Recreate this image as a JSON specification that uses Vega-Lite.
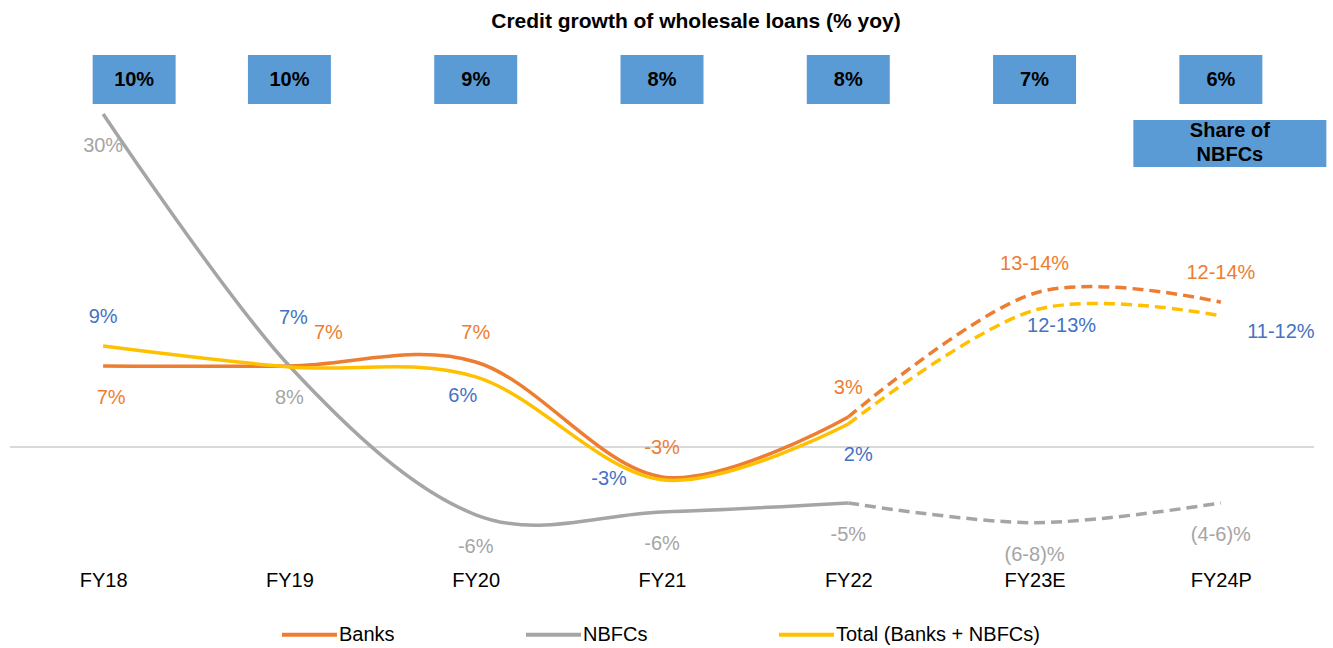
{
  "$schema": "https://vega.github.io/schema/vega-lite/v6.json",
  "width": 1304,
  "height": 520,
  "autosize": {"type": "none"},
  "padding": {"left": 10, "top": 40, "right": 19, "bottom": 88},
  "background": "white",
  "title": {"text": "Credit growth of wholesale loans (% yoy)", "fontSize": 21, "fontWeight": "bold", "font": "Liberation Sans", "color": "#000000", "anchor": "middle", "dx": 34, "offset": 8},
  "config": {"view": {"stroke": null}, "font": "Liberation Sans"},
  "datasets": {
    "growth": [
      {"year": "FY18", "series": "Banks", "value": 7.16, "label": "7%"},
      {"year": "FY19", "series": "Banks", "value": 7.16, "label": "7%"},
      {"year": "FY20", "series": "Banks", "value": 7.52, "label": "7%"},
      {"year": "FY21", "series": "Banks", "value": -2.65, "label": "-3%"},
      {"year": "FY22", "series": "Banks", "value": 2.65, "label": "3%"},
      {"year": "FY23E", "series": "Banks", "value": 13.6, "label": "13-14%"},
      {"year": "FY24P", "series": "Banks", "value": 12.8, "label": "12-14%"},
      {"year": "FY18", "series": "NBFCs", "value": 29.45, "label": "30%"},
      {"year": "FY19", "series": "NBFCs", "value": 7.16, "label": "8%"},
      {"year": "FY20", "series": "NBFCs", "value": -6.0, "label": "-6%"},
      {"year": "FY21", "series": "NBFCs", "value": -5.75, "label": "-6%"},
      {"year": "FY22", "series": "NBFCs", "value": -4.95, "label": "-5%"},
      {"year": "FY23E", "series": "NBFCs", "value": -6.7, "label": "(6-8)%"},
      {"year": "FY24P", "series": "NBFCs", "value": -4.95, "label": "(4-6)%"},
      {"year": "FY18", "series": "Total (Banks + NBFCs)", "value": 8.93, "label": "9%"},
      {"year": "FY19", "series": "Total (Banks + NBFCs)", "value": 7.08, "label": "7%"},
      {"year": "FY20", "series": "Total (Banks + NBFCs)", "value": 6.2, "label": "6%"},
      {"year": "FY21", "series": "Total (Banks + NBFCs)", "value": -2.9, "label": "-3%"},
      {"year": "FY22", "series": "Total (Banks + NBFCs)", "value": 2.03, "label": "2%"},
      {"year": "FY23E", "series": "Total (Banks + NBFCs)", "value": 12.1, "label": "12-13%"},
      {"year": "FY24P", "series": "Total (Banks + NBFCs)", "value": 11.6, "label": "11-12%"}
    ],
    "share": [
      {"year": "FY18", "share": 0.10},
      {"year": "FY19", "share": 0.10},
      {"year": "FY20", "share": 0.09},
      {"year": "FY21", "share": 0.08},
      {"year": "FY22", "share": 0.08},
      {"year": "FY23E", "share": 0.07},
      {"year": "FY24P", "share": 0.06}
    ],
    "note": [
      {"year": "FY24P", "text": "Share of\nNBFCs"}
    ]
  },
  "layer": [
    {
      "data": {"name": "growth"},
      "mark": {"type": "rule", "color": "#D9D9D9", "strokeWidth": 1},
      "encoding": {
        "y": {"datum": 0, "type": "quantitative", "scale": {"domain": [-10, 36], "nice": false, "zero": false}, "axis": null}
      }
    },
    {
      "data": {"name": "growth"},
      "transform": [{"filter": {"field": "year", "oneOf": ["FY18", "FY19", "FY20", "FY21", "FY22"]}}],
      "mark": {"type": "line", "interpolate": "cardinal", "strokeWidth": 3.5},
      "encoding": {
        "x": {"field": "year", "type": "ordinal", "scale": {"type": "point", "padding": 0.5, "domain": ["FY18", "FY19", "FY20", "FY21", "FY22", "FY23E", "FY24P"]}, "axis": {"title": null, "domain": false, "ticks": false, "labelAngle": 0, "labelFontSize": 20, "labelFont": "Liberation Sans", "labelColor": "#000000", "labelPadding": 10}},
        "y": {"field": "value", "type": "quantitative", "scale": {"domain": [-10, 36], "nice": false, "zero": false}, "axis": null},
        "color": {"field": "series", "type": "nominal", "scale": {"domain": ["Banks", "NBFCs", "Total (Banks + NBFCs)"], "range": ["#ED7D31", "#A5A5A5", "#FFC000"]},
          "legend": {"orient": "none", "legendX": 270, "legendY": 565, "direction": "horizontal", "title": null, "symbolType": "stroke", "symbolSize": 3025, "symbolStrokeWidth": 4, "labelFontSize": 20, "labelFont": "Liberation Sans", "labelColor": "#000000", "labelLimit": 0, "columnPadding": 123, "labelOffset": 0}}
      }
    },
    {
      "data": {"name": "growth"},
      "transform": [{"filter": {"field": "year", "oneOf": ["FY22", "FY23E", "FY24P"]}}],
      "mark": {"type": "line", "interpolate": "cardinal", "strokeWidth": 3.5, "strokeDash": [11, 6]},
      "encoding": {
        "x": {"field": "year", "type": "ordinal", "scale": {"type": "point", "padding": 0.5, "domain": ["FY18", "FY19", "FY20", "FY21", "FY22", "FY23E", "FY24P"]}},
        "y": {"field": "value", "type": "quantitative", "scale": {"domain": [-10, 36], "nice": false, "zero": false}, "axis": null},
        "color": {"field": "series", "type": "nominal", "scale": {"domain": ["Banks", "NBFCs", "Total (Banks + NBFCs)"], "range": ["#ED7D31", "#A5A5A5", "#FFC000"]}, "legend": null}
      }
    },
    {
      "data": {"name": "growth"},
      "transform": [{"filter": "datum.series === 'NBFCs'"}],
      "mark": {"type": "text", "fontSize": 20, "color": "#A5A5A5", "dy": 32},
      "encoding": {
        "x": {"field": "year", "type": "ordinal"},
        "y": {"field": "value", "type": "quantitative"},
        "text": {"field": "label"}
      }
    },
    {
      "data": {"name": "growth"},
      "transform": [{"filter": "datum.series === 'Banks' && datum.year !== 'FY18' && datum.year !== 'FY19'"}],
      "mark": {"type": "text", "fontSize": 20, "color": "#ED7D31", "dy": -29},
      "encoding": {
        "x": {"field": "year", "type": "ordinal"},
        "y": {"field": "value", "type": "quantitative"},
        "text": {"field": "label"}
      }
    },
    {
      "data": {"name": "growth"},
      "transform": [{"filter": "datum.series === 'Banks' && datum.year === 'FY18'"}],
      "mark": {"type": "text", "fontSize": 20, "color": "#ED7D31", "dx": 8, "dy": 32},
      "encoding": {
        "x": {"field": "year", "type": "ordinal"},
        "y": {"field": "value", "type": "quantitative"},
        "text": {"field": "label"}
      }
    },
    {
      "data": {"name": "growth"},
      "transform": [{"filter": "datum.series === 'Banks' && datum.year === 'FY19'"}],
      "mark": {"type": "text", "fontSize": 20, "color": "#ED7D31", "dx": 39, "dy": -33},
      "encoding": {
        "x": {"field": "year", "type": "ordinal"},
        "y": {"field": "value", "type": "quantitative"},
        "text": {"field": "label"}
      }
    },
    {
      "data": {"name": "growth"},
      "transform": [{"filter": "datum.series === 'Total (Banks + NBFCs)' && datum.year === 'FY18'"}],
      "mark": {"type": "text", "fontSize": 20, "color": "#4472C4", "dy": -29},
      "encoding": {
        "x": {"field": "year", "type": "ordinal"},
        "y": {"field": "value", "type": "quantitative"},
        "text": {"field": "label"}
      }
    },
    {
      "data": {"name": "growth"},
      "transform": [{"filter": "datum.series === 'Total (Banks + NBFCs)' && datum.year === 'FY19'"}],
      "mark": {"type": "text", "fontSize": 20, "color": "#4472C4", "dx": 4, "dy": -49},
      "encoding": {
        "x": {"field": "year", "type": "ordinal"},
        "y": {"field": "value", "type": "quantitative"},
        "text": {"field": "label"}
      }
    },
    {
      "data": {"name": "growth"},
      "transform": [{"filter": "datum.series === 'Total (Banks + NBFCs)' && datum.year === 'FY20'"}],
      "mark": {"type": "text", "fontSize": 20, "color": "#4472C4", "dx": -13, "dy": 19},
      "encoding": {
        "x": {"field": "year", "type": "ordinal"},
        "y": {"field": "value", "type": "quantitative"},
        "text": {"field": "label"}
      }
    },
    {
      "data": {"name": "growth"},
      "transform": [{"filter": "datum.series === 'Total (Banks + NBFCs)' && datum.year === 'FY21'"}],
      "mark": {"type": "text", "fontSize": 20, "color": "#4472C4", "dx": -53, "dy": -1},
      "encoding": {
        "x": {"field": "year", "type": "ordinal"},
        "y": {"field": "value", "type": "quantitative"},
        "text": {"field": "label"}
      }
    },
    {
      "data": {"name": "growth"},
      "transform": [{"filter": "datum.series === 'Total (Banks + NBFCs)' && datum.year === 'FY22'"}],
      "mark": {"type": "text", "fontSize": 20, "color": "#4472C4", "dx": 10, "dy": 31},
      "encoding": {
        "x": {"field": "year", "type": "ordinal"},
        "y": {"field": "value", "type": "quantitative"},
        "text": {"field": "label"}
      }
    },
    {
      "data": {"name": "growth"},
      "transform": [{"filter": "datum.series === 'Total (Banks + NBFCs)' && datum.year === 'FY23E'"}],
      "mark": {"type": "text", "fontSize": 20, "color": "#4472C4", "dx": 27, "dy": 16},
      "encoding": {
        "x": {"field": "year", "type": "ordinal"},
        "y": {"field": "value", "type": "quantitative"},
        "text": {"field": "label"}
      }
    },
    {
      "data": {"name": "growth"},
      "transform": [{"filter": "datum.series === 'Total (Banks + NBFCs)' && datum.year === 'FY24P'"}],
      "mark": {"type": "text", "fontSize": 20, "color": "#4472C4", "dx": 60, "dy": 16},
      "encoding": {
        "x": {"field": "year", "type": "ordinal"},
        "y": {"field": "value", "type": "quantitative"},
        "text": {"field": "label"}
      }
    },
    {
      "data": {"name": "share"},
      "transform": [{"filter": "datum.year !== 'FY18'"}],
      "mark": {"type": "rect", "width": 83, "height": 49, "color": "#5B9BD5"},
      "encoding": {
        "x": {"field": "year", "type": "ordinal"},
        "y": {"datum": 32.5, "type": "quantitative"}
      }
    },
    {
      "data": {"name": "share"},
      "transform": [{"filter": "datum.year === 'FY18'"}],
      "mark": {"type": "rect", "width": 83, "height": 49, "color": "#5B9BD5", "xOffset": 31},
      "encoding": {
        "x": {"field": "year", "type": "ordinal"},
        "y": {"datum": 32.5, "type": "quantitative"}
      }
    },
    {
      "data": {"name": "share"},
      "transform": [{"filter": "datum.year !== 'FY18'"}],
      "mark": {"type": "text", "fontSize": 20, "fontWeight": "bold", "color": "#000000"},
      "encoding": {
        "x": {"field": "year", "type": "ordinal"},
        "y": {"datum": 32.5, "type": "quantitative"},
        "text": {"field": "share", "type": "quantitative", "format": ".0%"}
      }
    },
    {
      "data": {"name": "share"},
      "transform": [{"filter": "datum.year === 'FY18'"}],
      "mark": {"type": "text", "fontSize": 20, "fontWeight": "bold", "color": "#000000", "dx": 31},
      "encoding": {
        "x": {"field": "year", "type": "ordinal"},
        "y": {"datum": 32.5, "type": "quantitative"},
        "text": {"field": "share", "type": "quantitative", "format": ".0%"}
      }
    },
    {
      "data": {"name": "note"},
      "mark": {"type": "rect", "width": 193, "height": 47, "color": "#5B9BD5", "xOffset": 9},
      "encoding": {
        "x": {"field": "year", "type": "ordinal"},
        "y": {"datum": 26.85, "type": "quantitative"}
      }
    },
    {
      "data": {"name": "note"},
      "mark": {"type": "text", "fontSize": 20, "fontWeight": "bold", "color": "#000000", "lineBreak": "\n", "lineHeight": 24, "dy": -12, "dx": 9},
      "encoding": {
        "x": {"field": "year", "type": "ordinal"},
        "y": {"datum": 26.85, "type": "quantitative"},
        "text": {"field": "text"}
      }
    }
  ]
}
